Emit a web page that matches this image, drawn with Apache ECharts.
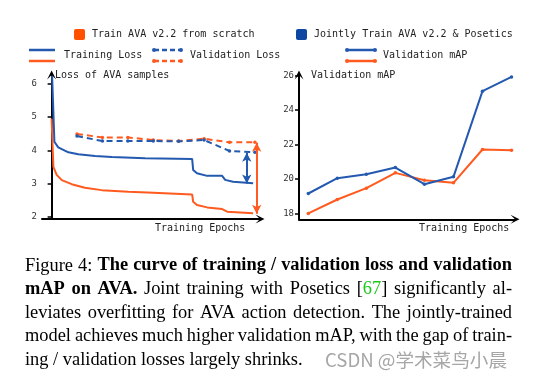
<!DOCTYPE html>
<html><head><meta charset="utf-8">
<script src="https://cdn.jsdelivr.net/npm/echarts@6/dist/echarts.min.js"></script>
<style>html,body{margin:0;padding:0;background:#fff}#c{width:538px;height:379px}</style>
</head><body><div id="c"></div>
<script>
// ---- data ----
const scratchTrainEpoch = [0, 0.07, 0.2, 0.4, 0.79, 1.31, 1.97, 3.02, 4.0, 5.53, 5.57, 5.72, 6.12, 6.71, 6.91, 7.93];
const scratchTrainLoss  = [4.96, 3.5, 3.26, 3.1, 2.98, 2.87, 2.8, 2.75, 2.72, 2.67, 2.45, 2.35, 2.28, 2.23, 2.15, 2.1];
const jointTrainEpoch = [0.02, 0.11, 0.26, 0.66, 1.05, 1.71, 2.37, 3.68, 5.53, 5.57, 5.72, 6.12, 6.71, 6.83, 7.14, 7.93];
const jointTrainLoss  = [6.25, 4.26, 4.09, 3.94, 3.88, 3.83, 3.80, 3.76, 3.74, 3.41, 3.31, 3.23, 3.23, 3.11, 3.05, 3.01];
const valEpochs = [1, 2, 3, 4, 5, 6, 7, 8];
const scratchValLoss = [4.49, 4.39, 4.39, 4.31, 4.28, 4.35, 4.24, 4.24];
const jointValLoss   = [4.43, 4.28, 4.28, 4.28, 4.27, 4.31, 3.98, 3.94];
const mapEpochs = [1, 2, 3, 4, 5, 6, 7, 8];
const scratchMAP = [17.99, 18.8, 19.46, 20.35, 19.92, 19.77, 21.71, 21.67];
const jointMAP   = [19.15, 20.04, 20.27, 20.66, 19.69, 20.12, 25.1, 25.93];
const lossTicks = [2, 3, 4, 5, 6];
const mapTicks = [18, 20, 22, 24, 26];
const jointGap = [7.68, 3.93, 3.0];     // epoch, top, bottom
const scratchGap = [8.07, 4.23, 2.09];

const legendScratch = 'Train AVA v2.2 from scratch';
const legendJoint = 'Jointly Train AVA v2.2 & Posetics';
const captionLines = [
  [['Figure 4: ', 'n'], ['The curve of training / validation loss and validation', 'b']],
  [['mAP on AVA.', 'b'], [' Joint training with Posetics [', 'n'], ['67', 'g'], ['] significantly al-', 'n']],
  [['leviates overfitting for AVA action detection.  The jointly-trained', 'n']],
  [['model achieves much higher validation mAP, with the gap of train-', 'n']],
  [['ing / validation losses largely shrinks.', 'n']]
];
const watermark = 'CSDN @学术菜鸟小晨';

// ---- style ----
const BLUE = '#2459b0', ORANGE = '#ff5a1f';
const SQ_BLUE = '#0d47a1', SQ_ORANGE = '#ff5100';
const MONO = '"DejaVu Sans Mono", monospace';
const SERIF = '"Liberation Serif", "Times New Roman", serif';
const ARROW = 'path://M5,0 L10,10 L5,5 L0,10 Z';

const zip = (xs, ys) => xs.map((x, i) => [x, ys[i]]);

function axisCommonY(ticks, min, max, gi) {
  return {
    type: 'value', gridIndex: gi, min: min, max: max,
    splitLine: { show: false },
    axisLine: { show: true, lineStyle: { color: '#000', width: 2 }, symbol: ['none', ARROW], symbolSize: [9, 10] },
    axisTick: { show: true, length: 4, lineStyle: { color: '#000', width: 1.5 }, customValues: ticks },
    axisLabel: { show: true, customValues: ticks, fontFamily: MONO, fontSize: 9, color: '#333', margin: 5 }
  };
}
function axisCommonX(min, max, gi) {
  return {
    type: 'value', gridIndex: gi, min: min, max: max,
    splitLine: { show: false },
    axisLine: { show: true, lineStyle: { color: '#000', width: 2 }, symbol: ['none', ARROW], symbolSize: [9, 10] },
    axisTick: { show: false }, axisLabel: { show: false }
  };
}

const gapMark = (gap, color) => ({
  silent: true, animation: false,
  symbol: ['arrow', 'arrow'], symbolSize: [7, 9],
  label: { show: false },
  lineStyle: { color: color, width: 2, type: 'solid' },
  data: [[{ coord: [gap[0], gap[1]] }, { coord: [gap[0], gap[2]] }]]
});

// ---- graphics: legend, axis labels, caption ----
const g = [];
function monoText(x, y, t) {
  g.push({ type: 'text', style: { x: x, y: y, text: t, font: '10px ' + MONO, fill: '#222', verticalAlign: 'middle', align: 'left' } });
}
g.push({ type: 'rect', shape: { x: 74, y: 29, width: 11, height: 11, r: 2 }, style: { fill: SQ_ORANGE } });
monoText(92, 34.5, legendScratch);
g.push({ type: 'rect', shape: { x: 296, y: 29, width: 11, height: 11, r: 2 }, style: { fill: SQ_BLUE } });
monoText(314, 34.5, legendJoint);
function legLine(x1, x2, y, color, dashed, dots) {
  g.push({ type: 'line', shape: { x1: x1, y1: y, x2: x2, y2: y }, style: { stroke: color, lineWidth: 2.5, lineDash: dashed ? [5, 3] : null } });
  if (dots) {
    g.push({ type: 'circle', shape: { cx: x1, cy: y, r: 2 }, style: { fill: color } });
    g.push({ type: 'circle', shape: { cx: x2, cy: y, r: 2 }, style: { fill: color } });
  }
}
legLine(29, 55, 50, BLUE, false, false);
legLine(29, 55, 61, ORANGE, false, false);
monoText(64, 55.5, 'Training Loss');
legLine(154, 181, 50, BLUE, true, true);
legLine(154, 181, 61, ORANGE, true, true);
monoText(190, 55.5, 'Validation Loss');
legLine(347, 375, 50, BLUE, false, true);
legLine(347, 375, 61, ORANGE, false, true);
monoText(383, 55.5, 'Validation mAP');
monoText(55, 75.5, 'Loss of AVA samples');
monoText(311, 75.5, 'Validation mAP');
monoText(155, 228.5, 'Training Epochs');
monoText(419, 228.5, 'Training Epochs');

// caption (justified)
const ctx = document.createElement('canvas').getContext('2d');
const fontOf = s => (s === 'b' ? 'bold ' : '') + '18.4px ' + SERIF;
const measure = (t, s) => { ctx.font = fontOf(s); return ctx.measureText(t).width; };
const capLeft = 25, capRight = 512, capBase = [265.7, 289.3, 312.9, 336.5, 360.1];
captionLines.forEach((segs, li) => {
  let words = [[]];
  segs.forEach(([text, s]) => {
    text.split(' ').forEach((part, i) => {
      if (i > 0) words.push([]);
      if (part) words[words.length - 1].push([part, s]);
    });
  });
  words = words.filter(w => w.length);
  const widths = words.map(w => w.reduce((a, [t, s]) => a + measure(t, s), 0));
  const total = widths.reduce((a, b) => a + b, 0);
  const last = li === captionLines.length - 1;
  const gap = last ? measure(' ', 'n') : (capRight - capLeft - total) / (words.length - 1);
  let x = capLeft;
  words.forEach((w, wi) => {
    let px = x;
    w.forEach(([t, s]) => {
      g.push({ type: 'text', style: { x: px, y: capBase[li], text: t, font: fontOf(s), fill: s === 'g' ? '#19c819' : '#000', verticalAlign: 'middle', align: 'left' } });
      px += measure(t, s);
    });
    x += widths[wi] + gap;
  });
});
g.push({ type: 'text', style: { x: 325, y: 360, text: watermark, font: '18.6px "Noto Sans CJK SC", sans-serif', fill: '#a6a6a6', verticalAlign: 'middle', align: 'left' } });

const chart = echarts.init(document.getElementById('c'), null, { renderer: 'canvas' });
chart.setOption({
  animation: false,
  backgroundColor: '#fff',
  grid: [
    { left: 42, top: 75, width: 218, height: 144, outerBoundsMode: 'none', containLabel: false },
    { left: 299, top: 75, width: 216, height: 144.3, outerBoundsMode: 'none', containLabel: false }
  ],
  xAxis: [axisCommonX(-0.378, 8.20, 0), axisCommonX(0.68, 8.12, 1)],
  yAxis: [axisCommonY(lossTicks, 1.93, 6.27, 0), axisCommonY(mapTicks, 17.65, 26.04, 1)],
  series: [
    { type: 'line', xAxisIndex: 0, yAxisIndex: 0, data: zip(scratchTrainEpoch, scratchTrainLoss), showSymbol: false, symbol: 'none', lineStyle: { color: ORANGE, width: 2 }, itemStyle: { color: ORANGE }, clip: false },
    { type: 'line', xAxisIndex: 0, yAxisIndex: 0, data: zip(jointTrainEpoch, jointTrainLoss), showSymbol: false, symbol: 'none', lineStyle: { color: BLUE, width: 2 }, itemStyle: { color: BLUE }, clip: false },
    { type: 'line', xAxisIndex: 0, yAxisIndex: 0, data: zip(valEpochs, scratchValLoss), symbol: 'circle', symbolSize: 3.5, lineStyle: { color: ORANGE, width: 2, type: [6, 4] }, itemStyle: { color: ORANGE }, markLine: gapMark(scratchGap, ORANGE) },
    { type: 'line', xAxisIndex: 0, yAxisIndex: 0, data: zip(valEpochs, jointValLoss), symbol: 'circle', symbolSize: 3.5, lineStyle: { color: BLUE, width: 2, type: [6, 4] }, itemStyle: { color: BLUE }, markLine: gapMark(jointGap, BLUE) },
    { type: 'line', xAxisIndex: 1, yAxisIndex: 1, data: zip(mapEpochs, scratchMAP), symbol: 'circle', symbolSize: 3.5, lineStyle: { color: ORANGE, width: 2 }, itemStyle: { color: ORANGE } },
    { type: 'line', xAxisIndex: 1, yAxisIndex: 1, data: zip(mapEpochs, jointMAP), symbol: 'circle', symbolSize: 3.5, lineStyle: { color: BLUE, width: 2 }, itemStyle: { color: BLUE } }
  ],
  graphic: g
});
</script></body></html>
